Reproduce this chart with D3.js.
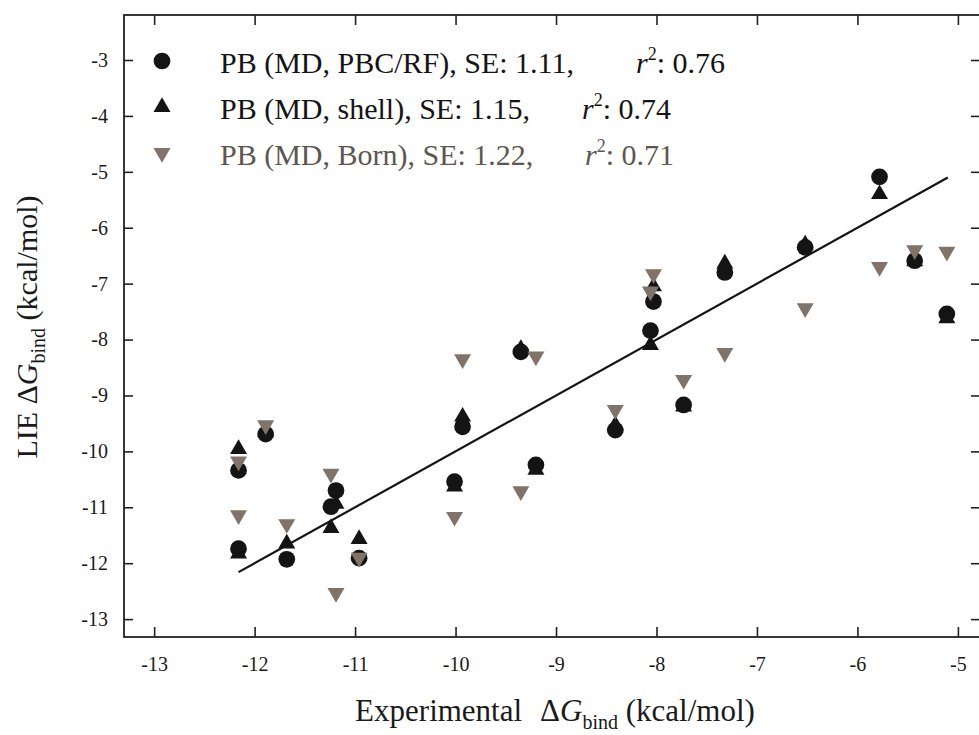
<!DOCTYPE html>
<html>
<head>
<meta charset="utf-8">
<script src="https://cdn.jsdelivr.net/npm/d3@7"></script>
<style>
  body { margin: 0; background: #fff; }
  svg { display: block; }
  text { font-family: "Liberation Serif", "Times New Roman", serif; fill: #1a1a1a; }
</style>
</head>
<body>
<script>
//chart values
var expDG = [-12.16, -12.16, -11.89, -11.68, -11.24, -11.19, -10.96, -10.01, -9.93, -9.35, -9.20, -8.41, -8.03, -8.06, -7.73, -7.32, -6.52, -5.78, -5.43, -5.11];
var pbcRF = [-10.34, -11.74, -9.69, -11.93, -10.99, -10.70, -11.91, -10.54, -9.56, -8.22, -10.24, -9.62, -7.32, -7.84, -9.17, -6.80, -6.35, -5.09, -6.59, -7.54];
var shell = [-9.96, -11.83, -9.65, -11.65, -11.37, -10.94, -11.57, -10.63, -9.38, -8.17, -10.33, -9.53, -7.05, -8.10, -9.20, -6.64, -6.30, -5.40, -6.60, -7.62];
var born = [-10.18, -11.14, -9.53, -11.30, -10.40, -12.53, -11.90, -11.17, -8.35, -10.71, -8.30, -9.26, -6.83, -7.14, -8.72, -8.24, -7.44, -6.70, -6.40, -6.43];
var fitLine = [[-12.16, -12.16], [-5.1, -5.1]];

var xTicks = [-13, -12, -11, -10, -9, -8, -7, -6, -5];
var yTicks = [-3, -4, -5, -6, -7, -8, -9, -10, -11, -12, -13];

var legendNames = ["PB (MD, PBC/RF), SE: 1.11,", "PB (MD, shell), SE: 1.15,", "PB (MD, Born), SE: 1.22,"];
var legendR2 = ["0.76", "0.74", "0.71"];

var black = "#141414",
    grey = "#807369";

var serif = "'Liberation Serif', 'Times New Roman', serif";

window.onload = drawChart();

function drawChart(){

    var width = 979,
        height = 735;

    var left = 124, right = 980, top = 15, bottom = 637;

    var svg = d3.select("body")
        .append("svg")
        .attr("width", width)
        .attr("height", height);

    var x = d3.scaleLinear()
        .domain([-13.3, -4.78])
        .range([left, right]);

    var y = d3.scaleLinear()
        .domain([-13.32, -2.195])
        .range([bottom, top]);

    var fmt = function(d){ return String(d); };

    //axes, ticks point inward
    var xAxis = svg.append("g")
        .attr("transform", "translate(0," + bottom + ")")
        .call(d3.axisBottom(x).tickValues(xTicks).tickSize(-10).tickPadding(20).tickFormat(fmt));

    svg.append("g")
        .attr("transform", "translate(0," + top + ")")
        .call(d3.axisTop(x).tickValues(xTicks).tickSize(-10).tickFormat(""));

    var yAxis = svg.append("g")
        .attr("transform", "translate(" + left + ",0)")
        .call(d3.axisLeft(y).tickValues(yTicks).tickSize(-9).tickPadding(16).tickFormat(fmt));

    svg.append("g")
        .attr("transform", "translate(" + right + ",0)")
        .call(d3.axisRight(y).tickValues(yTicks).tickSize(-9).tickFormat(""));

    svg.selectAll(".domain").remove();
    svg.selectAll(".tick line").attr("stroke", "#222").attr("stroke-width", 1.6);
    [xAxis, yAxis].forEach(function(ax){
        ax.selectAll(".tick text")
            .style("font-family", serif)
            .style("font-size", "20px")
            .style("fill", "#1a1a1a");
    });

    //frame
    svg.append("rect")
        .attr("x", left)
        .attr("y", top)
        .attr("width", right - left)
        .attr("height", bottom - top)
        .attr("fill", "none")
        .attr("stroke", "#222")
        .attr("stroke-width", 1.8);

    //fit line
    svg.append("path")
        .datum(fitLine)
        .attr("d", d3.line().x(function(d){ return x(d[0]); }).y(function(d){ return y(d[1]); }))
        .attr("stroke", black)
        .attr("stroke-width", 2.2)
        .attr("fill", "none");

    var circle = d3.symbol().type(d3.symbolCircle).size(220);
    var tri = d3.symbol().type(d3.symbolTriangle).size(125);

    function addSeries(values, sym, color, rot){
        svg.append("g")
            .selectAll("path")
            .data(values)
            .enter()
            .append("path")
            .attr("d", sym)
            .attr("fill", color)
            .attr("transform", function(d, i){
                return "translate(" + x(expDG[i]) + "," + y(d) + ")" + (rot ? " rotate(180)" : "");
            });
    }

    addSeries(pbcRF, circle, black, false);
    addSeries(shell, tri, black, false);
    addSeries(born, tri, grey, true);

    //legend
    var legendSyms = [circle, tri, tri];
    var legendColors = [black, black, grey];
    var textColors = ["#141414", "#141414", "#5e564f"];
    var r2End = [725, 671, 674];

    legendNames.forEach(function(name, i){
        var cy = 61 + i * 46;
        svg.append("path")
            .attr("d", legendSyms[i])
            .attr("fill", legendColors[i])
            .attr("transform", "translate(162," + cy + ")" + (i == 2 ? " rotate(180)" : ""));

        svg.append("text")
            .attr("x", 220)
            .attr("y", cy + 12)
            .style("font-size", "30px")
            .style("fill", textColors[i])
            .text(name);

        var t = svg.append("text")
            .attr("x", r2End[i])
            .attr("y", cy + 12)
            .attr("text-anchor", "end")
            .style("font-size", "30px")
            .style("fill", textColors[i]);
        t.append("tspan").attr("font-style", "italic").text("r");
        t.append("tspan").style("font-size", "18px").attr("dy", -13).text("2");
        t.append("tspan").attr("dy", 13).text(": " + legendR2[i]);
    });

    //axis titles
    var xt = svg.append("text")
        .attr("x", 555)
        .attr("y", 721)
        .attr("text-anchor", "middle")
        .style("font-size", "31px");
    xt.append("tspan").text("Experimental");
    xt.append("tspan").attr("dx", 18).text("\u0394");
    xt.append("tspan").attr("font-style", "italic").text("G");
    xt.append("tspan").style("font-size", "20px").attr("dy", 8).text("bind");
    xt.append("tspan").attr("dy", -8).text(" (kcal/mol)");

    var yt = svg.append("text")
        .attr("transform", "translate(37,327) rotate(-90)")
        .attr("text-anchor", "middle")
        .style("font-size", "30px");
    yt.append("tspan").text("LIE \u0394");
    yt.append("tspan").attr("font-style", "italic").text("G");
    yt.append("tspan").style("font-size", "20px").attr("dy", 8).text("bind");
    yt.append("tspan").attr("dy", -8).text(" (kcal/mol)");
};
</script>
</body>
</html>
